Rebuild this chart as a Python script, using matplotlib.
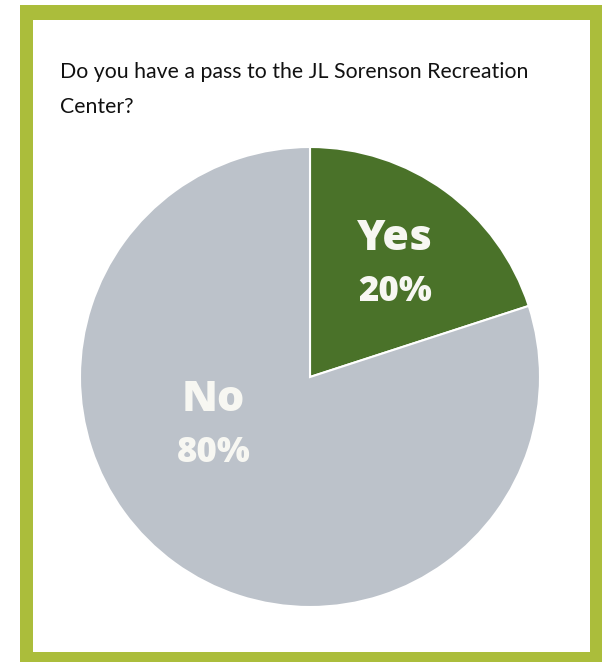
import matplotlib
matplotlib.use("Agg")
import matplotlib.pyplot as plt
from matplotlib.patches import Rectangle

# data
categories = ['Yes', 'No']
shares = [20, 80]
colors = ['#4a7229', '#bcc2ca']
title = "Do you have a pass to the JL Sorenson Recreation\nCenter?"

W, H = 602, 662


def main():
    fig = plt.figure(figsize=(W / 100, H / 100), dpi=100)
    fig.patch.set_facecolor('white')

    # green frame
    fig.patches.append(Rectangle((20 / W, 0), 582 / W, 657 / H, transform=fig.transFigure,
                                 facecolor='#abbd3b', edgecolor='none', zorder=0))
    fig.patches.append(Rectangle((33 / W, 10 / H), 557 / W, 632 / H, transform=fig.transFigure,
                                 facecolor='white', edgecolor='none', zorder=1))

    fig.text(60 / W, 1 - 62 / H, title, ha='left', va='top', fontsize=15.3,
             family='Lato', color='#111111', linespacing=1.95, zorder=3)

    ax = fig.add_axes([80 / W, 55 / H, 460 / W, 460 / H])
    ax.set_zorder(2)
    ax.patch.set_visible(False)
    wedges, _ = ax.pie(shares, colors=colors, startangle=90, counterclock=False,
                       wedgeprops=dict(edgecolor='white', linewidth=1.5))
    ax.set_xlim(-1, 1)
    ax.set_ylim(-1, 1)
    ax.set_aspect('equal')
    ax.set_axis_off()

    anchors = [(0.37, 0.487), (-0.42, -0.213)]
    for name, val, (x, y) in zip(categories, shares, anchors):
        ax.text(x, y + 0.115, name, ha='center', va='center', fontsize=31,
                fontweight='black', family='Open Sans', color='#f7f7f2')
        ax.text(x, y - 0.117, '{}%'.format(val), ha='center', va='center', fontsize=25,
                fontweight='black', family='Open Sans', color='#f7f7f2')

    fig.savefig('out.png', dpi=100)


if __name__ == '__main__':
    main()
